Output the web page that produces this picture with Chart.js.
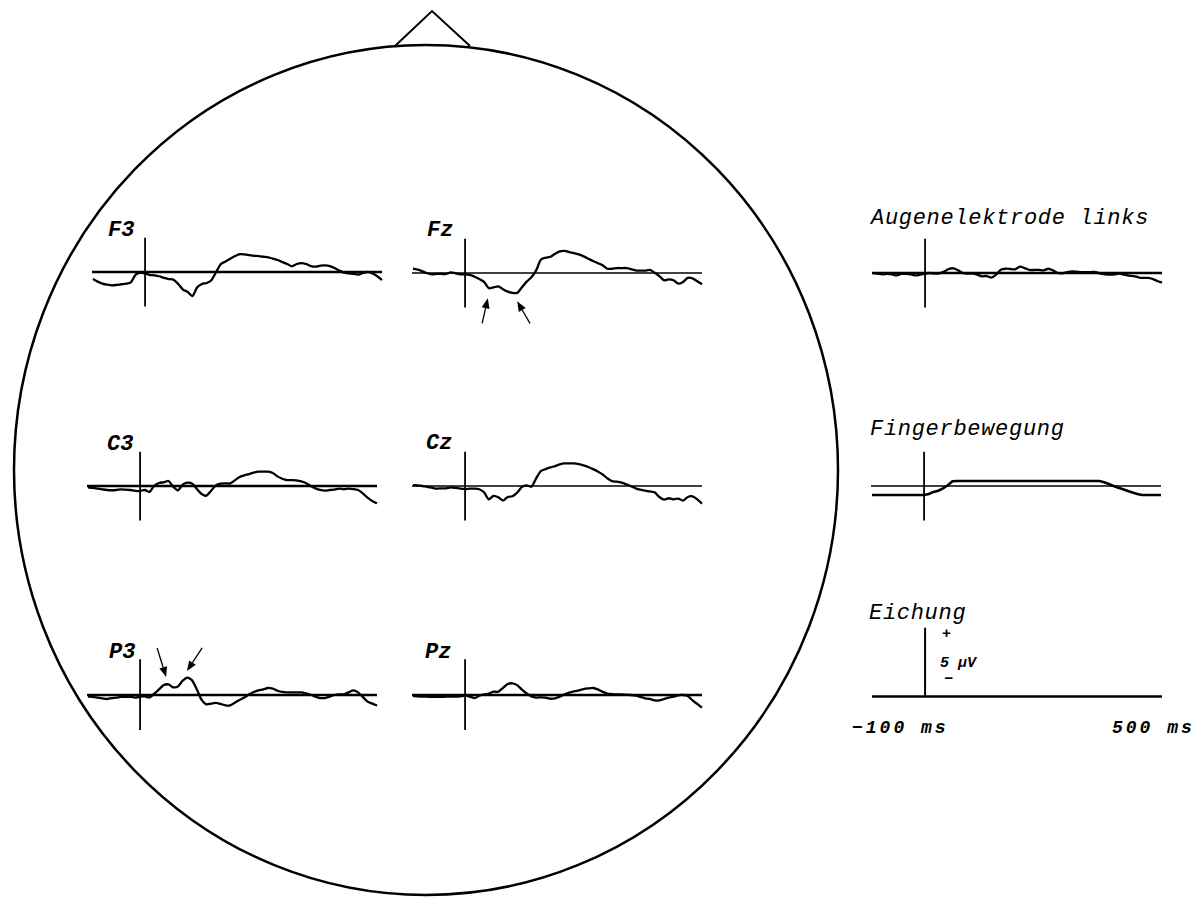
<!DOCTYPE html>
<html lang="de">
<head>
<meta charset="UTF-8">
<title>EEG Ableitungen</title>
<script src="https://cdn.jsdelivr.net/npm/chart.js@4/dist/chart.umd.min.js"></script>
<style>
  body { margin: 0; background: #fff; width: 1203px; height: 901px; overflow: hidden; position: relative; }
  #head { position: absolute; left: 0; top: 0; }
  canvas { position: absolute; }
  .lbl { position: absolute; font-family: "Liberation Mono", "DejaVu Sans Mono", monospace; font-style: italic;
         font-weight: bold; font-size: 22px; line-height: 22px; color: #000; white-space: pre; }
  .side { font-weight: normal; font-size: 22px; line-height: 22px; letter-spacing: 0.7px; }
  .small { font-size: 15px; line-height: 15px; }
  .ms { font-size: 18px; line-height: 18px; letter-spacing: 3px; }
</style>
</head>
<body>
<svg id="head" width="1203" height="901">
  <ellipse cx="426" cy="470" rx="412" ry="425" fill="none" stroke="#000" stroke-width="2.5"/>
  <polyline points="395,46 432,11 470,46" fill="none" stroke="#000" stroke-width="2"/>
</svg>

<div class="lbl" style="left:108px;top:220px">F3</div>
<div class="lbl" style="left:427px;top:220px">Fz</div>
<div class="lbl" style="left:107px;top:434px">C3</div>
<div class="lbl" style="left:426px;top:433px">Cz</div>
<div class="lbl" style="left:109px;top:642px">P3</div>
<div class="lbl" style="left:425px;top:642px">Pz</div>
<div class="lbl side" style="left:871px;top:208px">Augenelektrode links</div>
<div class="lbl side" style="left:870px;top:419px">Fingerbewegung</div>
<div class="lbl side" style="left:869px;top:603px">Eichung</div>
<div class="lbl small" style="left:942px;top:627px">+</div>
<div class="lbl small" style="left:940px;top:656px">5 µV</div>
<div class="lbl small" style="left:944px;top:672px">−</div>
<div class="lbl ms" style="left:852px;top:719px">−100 ms</div>
<div class="lbl ms" style="left:1112px;top:719px">500 ms</div>

<script>
// Zeitachse in ms
const times = [-110, -100, -90, -80, -70, -60, -50, -40, -30, -20,
               -10, 0, 10, 20, 30, 40, 50, 60, 70, 80,
               90, 100, 110, 120, 130, 140, 150, 160, 170, 180,
               190, 200, 210, 220, 230, 240, 250, 260, 270, 280,
               290, 300, 310, 320, 330, 340, 350, 360, 370, 380,
               390, 400, 410, 420, 430, 440, 450, 460, 470, 480,
               490, 500];

// Amplituden in µV (positiv nach oben)
const f3 = [-0.51, -0.70, -0.85, -0.92, -0.97, -0.94, -0.89, -0.85, -0.75, -0.19,
            -0.07, -0.10, -0.22, -0.24, -0.31, -0.43, -0.51, -0.56, -0.87, -1.28,
            -1.45, -1.75, -1.11, -0.87, -0.80, -0.60, 0.00, 0.58, 0.77, 0.97,
            1.16, 1.30, 1.28, 1.23, 1.18, 1.16, 1.11, 1.06, 0.97, 0.87,
            0.72, 0.58, 0.41, 0.58, 0.65, 0.58, 0.43, 0.39, 0.46, 0.48,
            0.43, 0.29, 0.10, -0.05, -0.10, -0.14, -0.19, -0.07, 0.00, -0.10,
            -0.31, -0.58];
const fz = [0.31, 0.24, 0.12, -0.02, -0.10, -0.07, -0.07, -0.07, 0.05, -0.02,
            -0.10, -0.10, -0.14, -0.27, -0.43, -0.65, -1.10, -1.05, -0.97, -1.18,
            -1.35, -1.45, -1.45, -1.04, -0.63, -0.31, 0.19, 0.97, 1.11, 1.18,
            1.40, 1.57, 1.61, 1.52, 1.45, 1.35, 1.21, 1.04, 0.87, 0.72,
            0.56, 0.31, 0.31, 0.36, 0.36, 0.36, 0.29, 0.19, 0.17, 0.17,
            0.22, 0.02, -0.22, -0.53, -0.46, -0.53, -0.77, -0.65, -0.36, -0.39,
            -0.60, -0.82];
const c3 = [-0.10, -0.14, -0.19, -0.24, -0.29, -0.31, -0.29, -0.24, -0.27, -0.29,
            -0.36, -0.36, -0.29, -0.43, 0.02, 0.22, 0.27, 0.36, -0.05, -0.31,
            0.10, 0.24, 0.17, -0.22, -0.58, -0.70, -0.34, 0.05, 0.17, 0.19,
            0.19, 0.41, 0.65, 0.77, 0.87, 0.97, 1.04, 1.04, 1.04, 0.94,
            0.70, 0.53, 0.43, 0.43, 0.41, 0.34, 0.22, 0.00, -0.17, -0.29,
            -0.34, -0.29, -0.27, -0.19, -0.24, -0.19, -0.22, -0.29, -0.53, -0.85,
            -1.09, -1.26];
const cz = [0.07, 0.05, 0.00, -0.07, -0.12, -0.19, -0.17, -0.17, -0.10, -0.14,
            -0.19, -0.22, -0.19, -0.19, -0.24, -0.46, -0.97, -0.72, -0.82, -1.06,
            -0.80, -0.75, -0.48, -0.07, 0.05, -0.05, 0.56, 1.09, 1.23, 1.35,
            1.45, 1.57, 1.64, 1.64, 1.64, 1.59, 1.50, 1.38, 1.23, 1.06,
            0.85, 0.56, 0.36, 0.31, 0.24, 0.12, -0.02, -0.17, -0.27, -0.34,
            -0.39, -0.46, -0.80, -0.99, -0.89, -0.97, -0.92, -1.06, -0.80, -0.75,
            -0.97, -1.28];
const p3 = [-0.12, -0.14, -0.19, -0.24, -0.29, -0.22, -0.19, -0.14, -0.14, -0.14,
            -0.19, -0.12, -0.10, -0.17, 0.10, 0.41, 0.72, 0.77, 0.56, 0.63,
            1.04, 1.26, 1.06, 0.39, -0.36, -0.68, -0.63, -0.58, -0.65, -0.75,
            -0.75, -0.56, -0.36, -0.19, 0.05, 0.22, 0.34, 0.41, 0.51, 0.46,
            0.31, 0.22, 0.19, 0.19, 0.19, 0.19, 0.12, 0.02, -0.12, -0.22,
            -0.22, -0.12, 0.00, 0.05, 0.05, 0.19, 0.34, 0.19, -0.14, -0.48,
            -0.63, -0.77];
const pz = [-0.07, -0.10, -0.12, -0.12, -0.14, -0.14, -0.14, -0.12, -0.12, -0.12,
            -0.10, -0.05, -0.12, -0.22, -0.05, 0.05, 0.10, 0.24, 0.24, 0.51,
            0.80, 0.85, 0.72, 0.39, 0.12, -0.10, -0.19, -0.17, -0.19, -0.27,
            -0.24, -0.12, 0.05, 0.17, 0.27, 0.34, 0.43, 0.48, 0.51, 0.41,
            0.24, 0.10, 0.07, 0.05, 0.05, 0.02, 0.00, -0.05, -0.14, -0.24,
            -0.29, -0.39, -0.39, -0.29, -0.19, -0.12, -0.02, 0.00, -0.07, -0.39,
            -0.65, -0.92];
const augen = [0.00, -0.05, -0.10, -0.07, -0.10, -0.17, -0.07, -0.07, -0.10, -0.17,
               -0.12, -0.05, 0.00, -0.05, -0.02, 0.10, 0.29, 0.34, 0.19, 0.00,
               -0.05, -0.05, -0.12, -0.24, -0.22, -0.34, -0.12, 0.24, 0.31, 0.29,
               0.27, 0.46, 0.36, 0.22, 0.22, 0.22, 0.19, 0.31, 0.19, 0.00,
               -0.02, 0.07, 0.12, 0.10, 0.07, 0.07, 0.07, 0.07, -0.05, -0.10,
               -0.12, -0.10, -0.05, -0.12, -0.19, -0.22, -0.31, -0.36, -0.36, -0.43,
               -0.58, -0.70];
const finger = [-0.65, -0.65, -0.65, -0.65, -0.65, -0.65, -0.65, -0.65, -0.65, -0.65,
                -0.65, -0.65, -0.58, -0.43, -0.34, -0.17, 0.05, 0.34, 0.36, 0.36,
                0.36, 0.36, 0.36, 0.36, 0.36, 0.36, 0.36, 0.36, 0.36, 0.36,
                0.36, 0.36, 0.36, 0.36, 0.36, 0.36, 0.36, 0.36, 0.36, 0.36,
                0.36, 0.36, 0.36, 0.36, 0.36, 0.36, 0.36, 0.36, 0.36, 0.27,
                0.14, 0.00, -0.12, -0.24, -0.36, -0.48, -0.58, -0.65, -0.65, -0.65,
                -0.65, -0.65];
const eichung = 5; // µV

// Pfeile [t0, v0, t1, v1]
const fzArrows = [[36, -3.66, 48, -1.84], [137, -3.66, 110, -2.06]];
const p3Arrows = [[36, 3.42, 55, 1.31], [131, 3.42, 99, 1.75]];

const T_MIN = -112, T_MAX = 500;
const PX_UV = 13.75;

const arrowPlugin = {
  id: 'arrows',
  afterDatasetsDraw(chart, args, opts) {
    const items = opts.items || [];
    const ctx = chart.ctx, xs = chart.scales.x, ys = chart.scales.y;
    ctx.save();
    ctx.strokeStyle = '#000';
    ctx.fillStyle = '#000';
    ctx.lineWidth = 1.3;
    items.forEach(a => {
      const x1 = xs.getPixelForValue(a[0]), y1 = ys.getPixelForValue(a[1]);
      const x2 = xs.getPixelForValue(a[2]), y2 = ys.getPixelForValue(a[3]);
      const ang = Math.atan2(y2 - y1, x2 - x1);
      const hl = 10, hw = 4;
      const bx = x2 - hl * Math.cos(ang), by = y2 - hl * Math.sin(ang);
      ctx.beginPath(); ctx.moveTo(x1, y1); ctx.lineTo(bx, by); ctx.stroke();
      ctx.beginPath();
      ctx.moveTo(x2, y2);
      ctx.lineTo(bx + hw * Math.sin(ang), by - hw * Math.cos(ang));
      ctx.lineTo(bx - hw * Math.sin(ang), by + hw * Math.cos(ang));
      ctx.closePath();
      ctx.fill();
    });
    ctx.restore();
  }
};

function line(points, width, tension) {
  return {
    data: points,
    borderColor: '#000',
    borderWidth: width,
    pointRadius: 0,
    tension: tension || 0,
    clip: false
  };
}
function trace(values, width, tension) {
  return line(times.map((t, i) => ({ x: t, y: values[i] })), width, tension);
}
function baseline(width) {
  return line([{ x: T_MIN, y: 0 }, { x: T_MAX, y: 0 }], width);
}
function zeroMark(lo, hi) {
  return line([{ x: 0, y: lo }, { x: 0, y: hi }], 1.8);
}

function panel(left, base, yMin, yMax, datasets, arrows) {
  const c = document.createElement('canvas');
  c.width = 300;
  c.height = Math.round((yMax - yMin) * PX_UV) + 10;
  c.style.left = (left - 5) + 'px';
  c.style.top = Math.round(base - 5 - yMax * PX_UV) + 'px';
  document.body.appendChild(c);
  new Chart(c, {
    type: 'line',
    data: { datasets: datasets },
    options: {
      responsive: false,
      animation: false,
      events: [],
      layout: { padding: 5 },
      plugins: { legend: { display: false }, tooltip: { enabled: false }, arrows: { items: arrows || [] } },
      scales: {
        x: { type: 'linear', min: T_MIN, max: T_MAX, display: false },
        y: { type: 'linear', min: yMin, max: yMax, display: false }
      }
    },
    plugins: [arrowPlugin]
  });
}

panel(92, 272, -4, 4, [baseline(2.5), zeroMark(-2.5, 2.5), trace(f3, 2.3, 0.25)]);
panel(412, 273, -4, 4, [baseline(1.4), zeroMark(-2.5, 2.5), trace(fz, 2.3, 0.25)], fzArrows);
panel(87, 486, -4, 4, [baseline(2.5), zeroMark(-2.5, 2.5), trace(c3, 2.3, 0.25)]);
panel(412, 486, -4, 4, [baseline(1.4), zeroMark(-2.5, 2.5), trace(cz, 2.3, 0.25)]);
panel(87, 695, -4, 4, [baseline(2.5), zeroMark(-2.55, 2.6), trace(p3, 2.3, 0.25)], p3Arrows);
panel(412, 695, -4, 4, [baseline(2.5), zeroMark(-2.55, 2.6), trace(pz, 2.3, 0.25)]);
panel(872, 273, -4, 4, [baseline(2.5), zeroMark(-2.5, 2.5), trace(augen, 2.3, 0.25)]);
panel(871, 486, -4, 4, [baseline(1.4), zeroMark(-2.5, 2.5), trace(finger, 2.6, 0)]);
panel(872, 696, -2, 6, [baseline(2.5), line([{ x: 0, y: 0 }, { x: 0, y: eichung }], 2)]);
</script>
</body>
</html>
